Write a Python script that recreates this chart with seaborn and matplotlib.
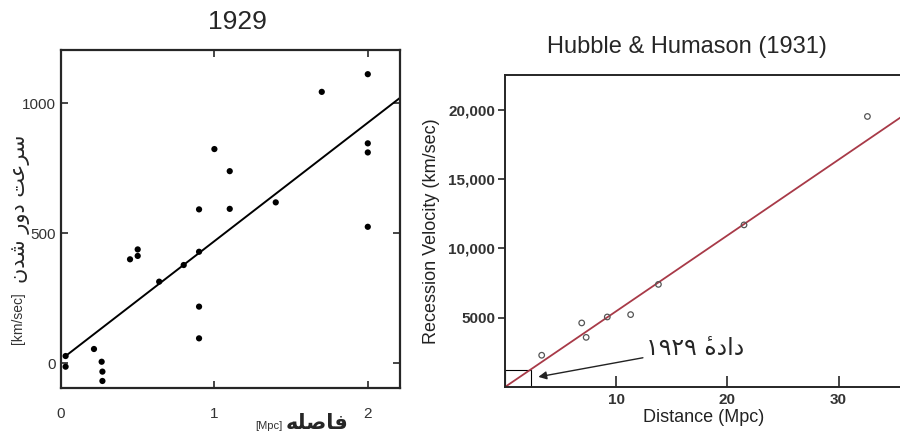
import matplotlib
matplotlib.use("Agg")
import matplotlib.pyplot as plt
import seaborn as sns
import pandas as pd
from matplotlib.patches import Rectangle

# Hubble (1929): distance in Mpc, velocity in km/sec
dist_1929 = [0.03, 0.03, 0.215, 0.265, 0.27, 0.27, 0.45, 0.50, 0.50, 0.64, 0.80,
             0.90, 0.90, 0.90, 0.90, 1.00, 1.10, 1.10, 1.40, 1.70, 2.00, 2.00, 2.00, 2.00]
vel_1929 = [27, -14, 54, 5, -33, -69, 399, 437, 412, 313, 377,
            428, 591, 217, 95, 823, 738, 593, 618, 1043, 1111, 845, 810, 524]
fit_1929_x = [0.03, 2.21]
fit_1929_y = [27, 1020]

# Hubble & Humason (1931)
dist_1931 = [3.3, 6.9, 7.3, 9.2, 11.3, 13.8, 21.5, 32.6]
vel_1931 = [2290, 4620, 3580, 5050, 5220, 7400, 11690, 19510]
fit_1931_x = [0.0, 35.8]
fit_1931_y = [0, 19560]

# box that marks the 1929 data range
box_1929 = (2.3, 1200)

ticks_1929_x = [0, 1, 2]
ticks_1929_y = [0, 500, 1000]
ticks_1931_x = [10, 20, 30]
ticks_1931_y = [5000, 10000, 15000, 20000]
ticklabels_1931_y = ["5000", "10,000", "15,000", "20,000"]

# Persian text, written in visual order with presentation forms
ylabel_fa = "\uFEE5\uFEAA\uFEB7 \uFEAD\uFEED\uFEA9 \uFE96\uFECB\uFEAE\uFEB3"   # سرعت دور شدن
xlabel_fa = "\uFEEA\uFEE0\uFEBB\uFE8E\uFED3"                                  # فاصله
note_fa = "\u06F1\u06F9\u06F2\u06F9 \u0654\uFEE9\uFEA9\uFE8D\uFEA9"           # دادهٔ ۱۹۲۹

df29 = pd.DataFrame({"d": dist_1929, "v": vel_1929})
df31 = pd.DataFrame({"d": dist_1931, "v": vel_1931})

sns.set_style("ticks")
plt.rcParams["font.family"] = ["Liberation Sans", "DejaVu Sans"]

W, H = 900, 436
fig = plt.figure(figsize=(9, 4.36), dpi=100)

def px(x0, y0, x1, y1):
    return [x0 / W, 1 - y1 / H, (x1 - x0) / W, (y1 - y0) / H]

# ---- left panel: 1929 ----
ax1 = fig.add_axes(px(61, 50, 400, 388))
sns.scatterplot(data=df29, x="d", y="v", ax=ax1, color="black", s=20,
                edgecolor="none", zorder=3)
sns.lineplot(x=fit_1929_x, y=fit_1929_y, ax=ax1, color="black", lw=1.4)
ax1.set_xlim(0, 2.21)
ax1.set_ylim(-96, 1204)
ax1.set_xticks(ticks_1929_x)
ax1.set_yticks(ticks_1929_y)
ax1.tick_params(direction="in", length=5, width=1.2, labelsize=11,
                labelcolor="#333333", top=True, right=True, pad=14)
ax1.tick_params(axis="y", pad=4)
ax1.set_xlabel("")
ax1.set_ylabel("")
for s in ax1.spines.values():
    s.set_linewidth(1.6)
fig.text(237 / W, 1 - 22 / H, "1929", fontsize=19, ha="center", va="center")
fig.text(20 / W, 1 - 209 / H, ylabel_fa, fontsize=15, rotation=90,
         ha="center", va="center", family="DejaVu Sans")
fig.text(18 / W, 1 - 318 / H, "[km/sec]", fontsize=10, rotation=90,
         ha="center", va="center", color="#333333")
fig.text(317 / W, 1 - 423 / H, xlabel_fa, fontsize=15, fontweight="bold",
         ha="center", va="center", family="DejaVu Sans")
fig.text(269 / W, 1 - 426 / H, "[Mpc]", fontsize=8, ha="center", va="center",
         color="#333333")

# ---- right panel: Hubble & Humason 1931 ----
ax2 = fig.add_axes(px(505, 75, 903, 387))
sns.lineplot(x=fit_1931_x, y=fit_1931_y, ax=ax2, color="#a83a48", lw=1.3)
sns.scatterplot(data=df31, x="d", y="v", ax=ax2, s=16, facecolor="none",
                edgecolor="#555555", linewidth=0.9, zorder=3)
ax2.add_patch(Rectangle((0, 0), box_1929[0], box_1929[1], fill=False,
                        edgecolor="black", lw=0.8))
ax2.set_xlim(0, 35.8)
ax2.set_ylim(0, 22500)
ax2.set_xticks(ticks_1931_x)
ax2.set_yticks(ticks_1931_y)
ax2.set_yticklabels(ticklabels_1931_y)
ax2.tick_params(axis="x", direction="in", length=8, width=1.2, pad=4)
ax2.tick_params(axis="y", direction="out", length=5, width=1.2, pad=2)
ax2.tick_params(labelsize=11, labelcolor="#333333")
for lab in ax2.get_xticklabels() + ax2.get_yticklabels():
    lab.set_fontweight("bold")
for s in ax2.spines.values():
    s.set_linewidth(1.4)
ax2.set_xlabel("Distance (Mpc)", fontsize=13, labelpad=2, color="#222222")
ax2.set_ylabel("Recession Velocity (km/sec)", fontsize=13, labelpad=6,
               color="#222222")
ax2.annotate(note_fa, xy=(3.0, 730), xytext=(12.7, 2800), fontsize=17,
             family="DejaVu Sans", ha="left", va="center",
             arrowprops=dict(arrowstyle="-|>", color="#222222", lw=1.0,
                             shrinkA=0, shrinkB=0, mutation_scale=12))
fig.text(687 / W, 1 - 47 / H, "Hubble & Humason (1931)", fontsize=17,
         ha="center", va="center")

fig.savefig("out.png", dpi=100)
